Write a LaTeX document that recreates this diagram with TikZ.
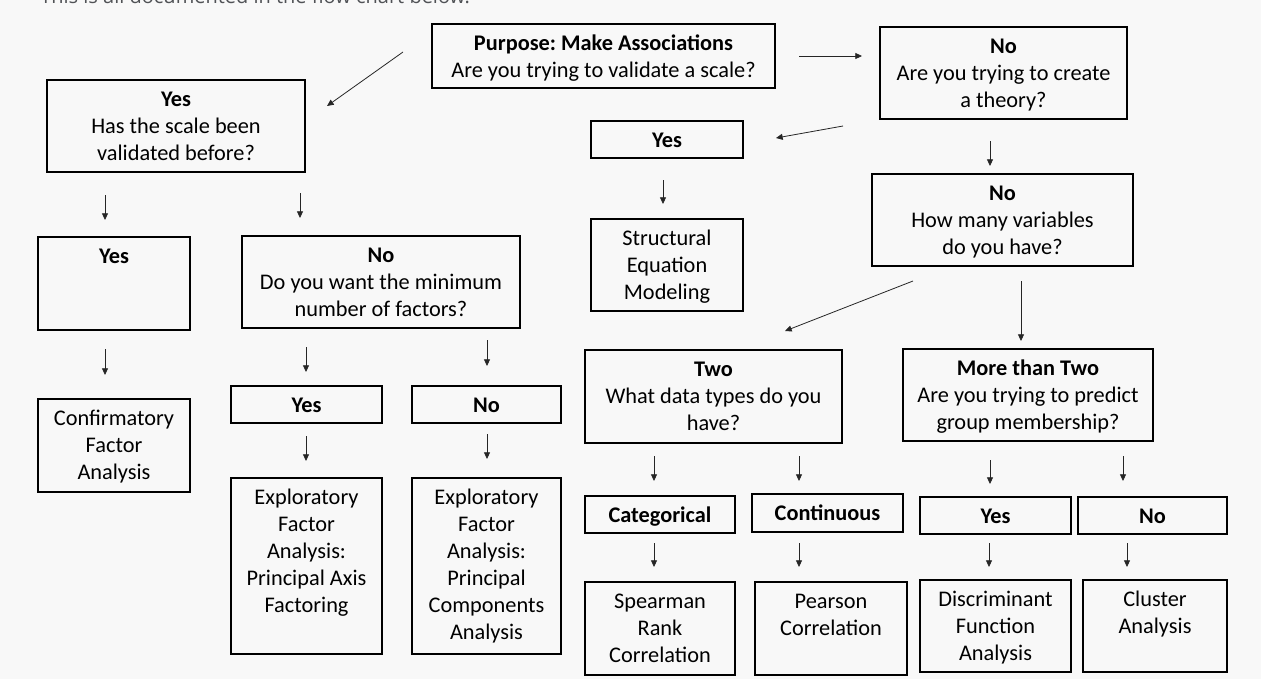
\documentclass[tikz,border=0pt]{standalone}
\usepackage{fontspec}
\setmainfont{Carlito}
\newfontfamily\introfont{Open Sans}
\usetikzlibrary{positioning,arrows.meta}
\frenchspacing

\definecolor{bgcol}{RGB}{248,248,248}
\definecolor{introcol}{RGB}{80,82,86}

\tikzset{
  box/.style={draw=black, line width=1.5pt, inner sep=0pt},
  txt/.style={align=center, inner sep=0pt, font=\fontsize{16.75}{20.25}\selectfont},
  arr/.style={-{Triangle[length=5pt,width=4.5pt]}, line width=0.6pt, draw=black!85},
}

\begin{document}
\begin{tikzpicture}[x=0.75pt,y=0.75pt,yscale=-1]
\useasboundingbox (0,0) rectangle (1261,679);
\fill[bgcol] (0,0) rectangle (1261,679);

% line of text above the chart, cut by the page edge
\begin{scope}
\clip (0,0) rectangle (1261,679);
\node[anchor=base west, inner sep=0pt, text=introcol, font=\introfont\fontsize{15}{18}\selectfont] (intro) at (40,3.5) {This is all documented in the flow chart below.};
\end{scope}

%% boxes
\node[box, minimum width=257.25pt, minimum height=48pt] (purp) at (603.5,56) {};
\node[txt, below=6.5pt of purp.north] (purpT) {\strut\textbf{Purpose: Make Associations}\\Are you trying to validate a scale?};

\node[box, minimum width=193.5pt, minimum height=69pt] (valid) at (176,126) {};
\node[txt, below=6.5pt of valid.north] (validT) {\strut\textbf{Yes}\\Has the scale been\\validated before?};

\node[box, minimum width=185.25pt, minimum height=69pt] (theory) at (1003.5,73) {};
\node[txt, below=6.5pt of theory.north] (theoryT) {\strut\textbf{No}\\Are you trying to create\\a theory?};

\node[box, minimum width=114pt, minimum height=27.75pt] (semyes) at (667,139.5) {};
\node[txt, below=6.5pt of semyes.north] (semyesT) {\strut\textbf{Yes}};

\node[box, minimum width=114pt, minimum height=69pt] (sem) at (667,265) {};
\node[txt, below=6.5pt of sem.north] (semT) {\strut Structural\\Equation\\Modeling};

\node[box, minimum width=195.75pt, minimum height=69pt] (vars) at (1002.5,220) {};
\node[txt, below=6.5pt of vars.north] (varsT) {\strut\textbf{No}\\How many variables\\do you have?};

\node[box, minimum width=114pt, minimum height=69.75pt] (cfayes) at (114,283.5) {};
\node[txt, below=6.5pt of cfayes.north] (cfayesT) {\strut\textbf{Yes}};

\node[box, minimum width=208.5pt, minimum height=69pt] (minf) at (381,282) {};
\node[txt, below=6.5pt of minf.north] (minfT) {\strut\textbf{No}\\Do you want the minimum\\number of factors?};

\node[box, minimum width=114pt, minimum height=69.75pt] (cfa) at (114,445.5) {};
\node[txt, below=6.5pt of cfa.north] (cfaT) {\strut Confirmatory\\Factor\\Analysis};

\node[box, minimum width=113.25pt, minimum height=27.75pt] (minyes) at (306.5,404.5) {};
\node[txt, below=6.5pt of minyes.north] (minyesT) {\strut\textbf{Yes}};

\node[box, minimum width=111.75pt, minimum height=27.75pt] (minno) at (486.5,404.5) {};
\node[txt, below=6.5pt of minno.north] (minnoT) {\strut\textbf{No}};

\node[box, minimum width=113.25pt, minimum height=132pt] (paf) at (306.5,566) {};
\node[txt, below=6.5pt of paf.north] (pafT) {\strut Exploratory\\Factor\\Analysis:\\Principal Axis\\Factoring};

\node[box, minimum width=111.75pt, minimum height=132pt] (pca) at (486.5,566) {};
\node[txt, below=6.5pt of pca.north] (pcaT) {\strut Exploratory\\Factor\\Analysis:\\Principal\\Components\\Analysis};

\node[box, minimum width=192.75pt, minimum height=69.75pt] (two) at (713.5,396.5) {};
\node[txt, below=6.5pt of two.north] (twoT) {\strut\textbf{Two}\\What data types do you\\have?};

\node[box, minimum width=187.5pt, minimum height=69pt] (more) at (1028,395) {};
\node[txt, below=6.5pt of more.north] (moreT) {\strut\textbf{More than Two}\\Are you trying to predict\\group membership?};

\node[box, minimum width=112.5pt, minimum height=27.75pt] (cat) at (660,514.5) {};
\node[txt, below=6.5pt of cat.north] (catT) {\strut\textbf{Categorical}};

\node[box, minimum width=113.25pt, minimum height=28.5pt] (cont) at (827.5,513) {};
\node[txt, below=6.5pt of cont.north] (contT) {\strut\textbf{Continuous}};

\node[box, minimum width=113.25pt, minimum height=27.75pt] (grpyes) at (995.5,515.5) {};
\node[txt, below=6.5pt of grpyes.north] (grpyesT) {\strut\textbf{Yes}};

\node[box, minimum width=111.75pt, minimum height=27.75pt] (grpno) at (1152.5,515.5) {};
\node[txt, below=6.5pt of grpno.north] (grpnoT) {\strut\textbf{No}};

\node[box, minimum width=112.5pt, minimum height=69.75pt] (spear) at (660,628.5) {};
\node[txt, below=6.5pt of spear.north] (spearT) {\strut Spearman\\Rank\\Correlation};

\node[box, minimum width=114pt, minimum height=69.75pt] (pear) at (831,628.5) {};
\node[txt, below=6.5pt of pear.north] (pearT) {\strut Pearson\\Correlation};

\node[box, minimum width=113.25pt, minimum height=69pt] (disc) at (995.5,626) {};
\node[txt, below=6.5pt of disc.north] (discT) {\strut Discriminant\\Function\\Analysis};

\node[box, minimum width=108pt, minimum height=69pt] (clus) at (1155,626) {};
\node[txt, below=6.5pt of clus.north] (clusT) {\strut Cluster\\Analysis};

%% arrows, they float between the boxes
\coordinate (purpL) at (403,52);   \coordinate (validA) at (327,106);
\coordinate (purpR) at (799,56);   \coordinate (theoryA) at (862,56);
\coordinate (theoryL) at (843,126); \coordinate (semyesA) at (776,138);
\coordinate (theoryB) at (990,141); \coordinate (varsA) at (990,166);
\coordinate (semyesB) at (663,180); \coordinate (semA) at (663,204);
\coordinate (validL) at (105,195);  \coordinate (cfayesA) at (105,220);
\coordinate (validR) at (300,193);  \coordinate (minfA) at (300,218);
\coordinate (cfayesB) at (105,349); \coordinate (cfaA) at (105,375);
\coordinate (minfL) at (306,347);   \coordinate (minyesA) at (306,372);
\coordinate (minfR) at (487,340);   \coordinate (minnoA) at (487,366);
\coordinate (minyesB) at (306,436); \coordinate (pafA) at (306,461);
\coordinate (minnoB) at (487,434);  \coordinate (pcaA) at (487,459);
\coordinate (varsL) at (913,281);   \coordinate (twoA) at (785,331);
\coordinate (varsR) at (1021,281);  \coordinate (moreA) at (1021,341);
\coordinate (twoL) at (654,456);    \coordinate (catA) at (654,481);
\coordinate (twoR) at (799,456);    \coordinate (contA) at (799,481);
\coordinate (moreL) at (990,460);   \coordinate (grpyesA) at (990,484);
\coordinate (moreR) at (1123,456);  \coordinate (grpnoA) at (1123,481);
\coordinate (catB) at (654,543);    \coordinate (spearA) at (654,567);
\coordinate (contB) at (799,543);   \coordinate (pearA) at (799,567);
\coordinate (grpyesB) at (989,543); \coordinate (discA) at (989,567);
\coordinate (grpnoB) at (1127,543); \coordinate (clusA) at (1127,567);

\draw[arr] (purpL) -- (validA);
\draw[arr] (purpR) -- (theoryA);
\draw[arr] (theoryL) -- (semyesA);
\draw[arr] (theoryB) -- (varsA);
\draw[arr] (semyesB) -- (semA);
\draw[arr] (validL) -- (cfayesA);
\draw[arr] (validR) -- (minfA);
\draw[arr] (cfayesB) -- (cfaA);
\draw[arr] (minfL) -- (minyesA);
\draw[arr] (minfR) -- (minnoA);
\draw[arr] (minyesB) -- (pafA);
\draw[arr] (minnoB) -- (pcaA);
\draw[arr] (varsL) -- (twoA);
\draw[arr] (varsR) -- (moreA);
\draw[arr] (twoL) -- (catA);
\draw[arr] (twoR) -- (contA);
\draw[arr] (moreL) -- (grpyesA);
\draw[arr] (moreR) -- (grpnoA);
\draw[arr] (catB) -- (spearA);
\draw[arr] (contB) -- (pearA);
\draw[arr] (grpyesB) -- (discA);
\draw[arr] (grpnoB) -- (clusA);

\end{tikzpicture}
\end{document}
